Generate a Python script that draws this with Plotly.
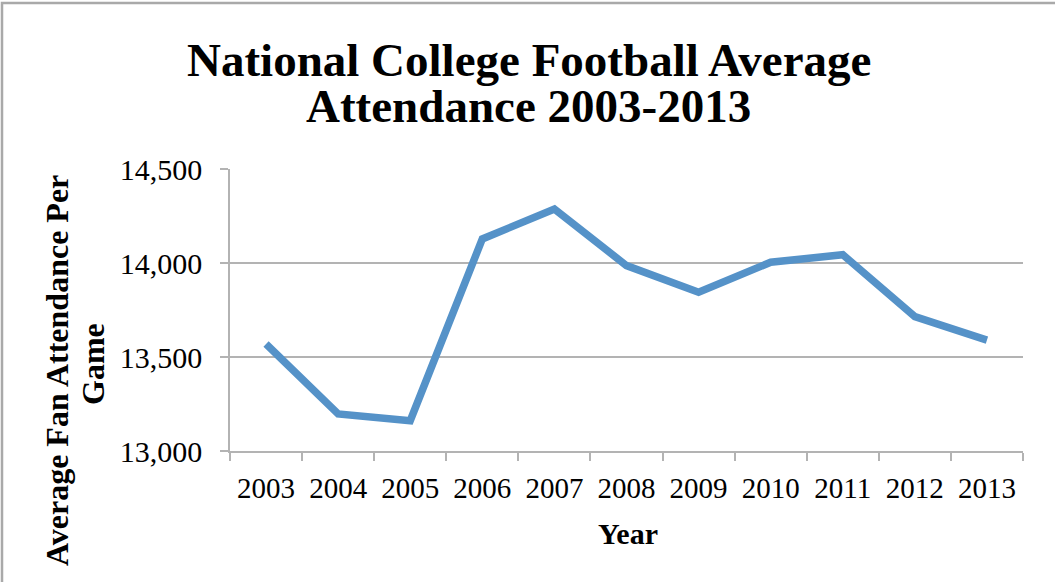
import plotly.graph_objects as go

years = ["2003", "2004", "2005", "2006", "2007", "2008", "2009", "2010", "2011", "2012", "2013"]
attendance = [13569, 13197, 13161, 14128, 14287, 13986, 13844, 14004, 14044, 13715, 13590]
y_ticks = [13000, 13500, 14000, 14500]

title_lines = ["National College Football Average", "Attendance 2003-2013"]
y_title_lines = ["Average Fan Attendance Per", "Game"]
x_title = "Year"

W, H = 1055, 582
L, R, T, B = 230, 1023, 169, 451


def px(x):
    return (x - L) / (R - L)


def py(y):
    return (B - y) / (B - T)


SERIF = "Liberation Serif, Times New Roman, serif"

fig = go.Figure()
fig.add_trace(go.Scatter(
    x=years, y=attendance, mode="lines",
    line=dict(color="#5592C8", width=7.5),
    hoverinfo="x+y",
))

fig.update_layout(
    width=W, height=H,
    margin=dict(l=L, r=W - R, t=T, b=H - B, pad=0, autoexpand=False),
    paper_bgcolor="white", plot_bgcolor="white",
    showlegend=False,
    font=dict(family=SERIF, color="black"),
    xaxis=dict(
        type="category", range=[-0.5, len(years) - 0.5], automargin=False,
        showgrid=False, showline=True, linecolor="#B3B3B3", linewidth=1.5,
        ticks="outside", tickson="boundaries", ticklen=8, tickcolor="#B3B3B3", tickwidth=1.5,
        tickfont=dict(family=SERIF, size=29, color="black"),
        ticklabelstandoff=10,
        zeroline=False,
    ),
    yaxis=dict(
        range=[13000, 14500], tickvals=y_ticks, tickformat=",", automargin=False,
        showgrid=True, gridcolor="#B3B3B3", gridwidth=1.5,
        showline=True, linecolor="#B3B3B3", linewidth=1.5,
        ticks="outside", ticklen=8, tickcolor="#B3B3B3", tickwidth=1.5,
        tickfont=dict(family=SERIF, size=30, color="black"),
        ticklabelstandoff=12,
        zeroline=False,
    ),
)

annots = [
    dict(text="<b>%s</b>" % title_lines[0], x=px(529), y=py(60), size=47, angle=0),
    dict(text="<b>%s</b>" % title_lines[1], x=px(528), y=py(106), size=47, angle=0),
    dict(text="<b>%s</b>" % y_title_lines[0], x=px(57), y=py(371), size=32, angle=-90),
    dict(text="<b>%s</b>" % y_title_lines[1], x=px(93), y=py(364), size=32, angle=-90),
    dict(text="<b>%s</b>" % x_title, x=px(628), y=py(533), size=30, angle=0),
]
for a in annots:
    fig.add_annotation(
        text=a["text"], x=a["x"], y=a["y"], xref="paper", yref="paper",
        xanchor="center", yanchor="middle", showarrow=False, textangle=a["angle"],
        font=dict(family=SERIF, size=a["size"], color="black"),
    )

fig.add_shape(
    type="rect", xref="paper", yref="paper",
    x0=px(2), y0=py(600), x1=px(1070), y1=py(3),
    line=dict(color="#A9A9A9", width=2.5), fillcolor="rgba(0,0,0,0)", layer="above",
)

fig.write_html("out.html")
